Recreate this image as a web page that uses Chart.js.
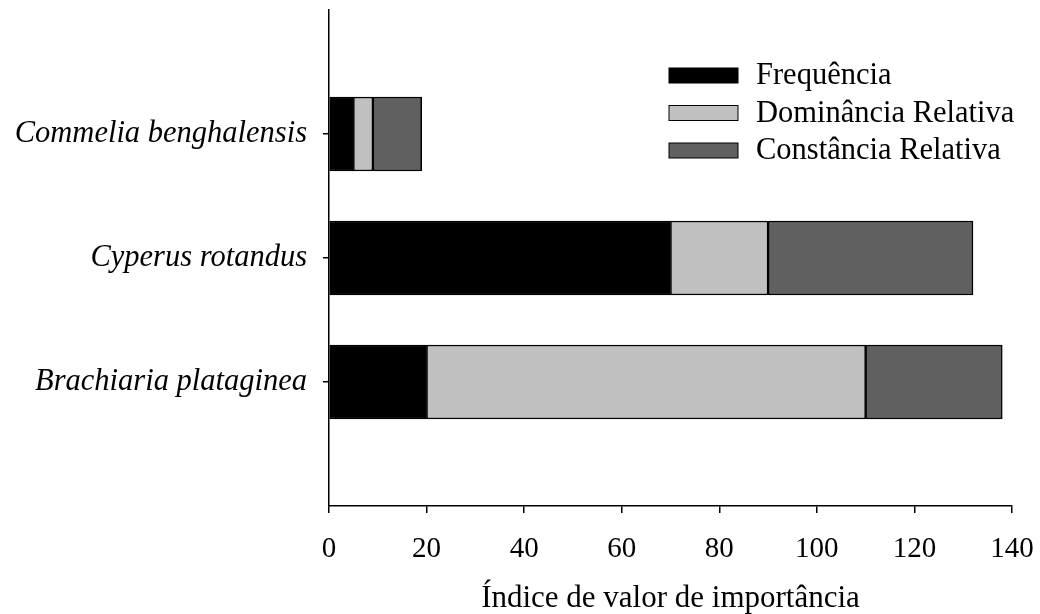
<!DOCTYPE html>
<html>
<head>
<meta charset="utf-8">
<script src="https://cdn.jsdelivr.net/npm/chart.js@4.4.0/dist/chart.umd.min.js"></script>
<style>
    html, body { margin: 0; padding: 0; background: #fff; }
    #wrap { width: 1040px; height: 614px; }
</style>
</head>
<body>
<div id="wrap"><canvas id="chartjs_bar"></canvas></div>
<script>
// species (empty entries pad the axis top and bottom)
const species = ['', 'Commelia benghalensis', 'Cyperus rotandus', 'Brachiaria plataginea', ''];
const frequencia = [null, 5, 70, 20, null];
const dominancia = [null, 4, 20, 90, null];
const constancia = [null, 10, 42, 28, null];
const seriesNames = ['Frequência', 'Dominância Relativa', 'Constância Relativa'];
const xTicks = [0, 20, 40, 60, 80, 100, 120, 140];

const colors = ['#000000', '#c0c0c0', '#606060'];
const serif = '"Liberation Serif", "Times New Roman", serif';

function makeSet(i, values) {
    return {
        label: seriesNames[i],
        data: values,
        backgroundColor: colors[i],
        borderColor: '#000',
        borderWidth: 1.5,
        borderSkipped: false,
        barThickness: 74
    };
}

// legend drawn inside the plot, top right
const insideLegend = {
    id: 'insideLegend',
    afterDraw(chart) {
        const ctx = chart.ctx;
        ctx.save();
        ctx.font = '30.5px ' + serif;
        ctx.textBaseline = 'middle';
        chart.data.datasets.forEach((ds, i) => {
            const y = 75 + i * 37.5;
            ctx.fillStyle = ds.backgroundColor;
            ctx.fillRect(669, y - 7, 69, 15);
            ctx.strokeStyle = '#000';
            ctx.lineWidth = 1;
            ctx.strokeRect(669, y - 7, 69, 15);
            ctx.fillStyle = '#000';
            ctx.fillText(ds.label, 756, y + 1);
        });
        ctx.restore();
    }
};

new Chart(document.getElementById('chartjs_bar'), {
    type: 'bar',
    data: {
        labels: species,
        datasets: [
            makeSet(0, frequencia),
            makeSet(1, dominancia),
            makeSet(2, constancia)
        ]
    },
    plugins: [insideLegend],
    options: {
        indexAxis: 'y',
        responsive: true,
        maintainAspectRatio: false,
        animation: false,
        layout: {
            padding: 0
        },
        scales: {
            x: {
                stacked: true,
                min: 0,
                max: 140,
                afterBuildTicks: (axis) => {
                    axis.ticks = xTicks.map(v => ({ value: v }));
                },
                afterFit: (axis) => {
                    axis.height = 108;
                    axis.paddingRight = 28;
                    axis.paddingLeft = 0;
                },
                border: { display: true, color: '#000', width: 1.5 },
                grid: {
                    display: true,
                    drawOnChartArea: false,
                    drawTicks: true,
                    tickLength: 7,
                    color: '#000',
                    lineWidth: 1.5
                },
                ticks: {
                    color: '#000',
                    padding: 19,
                    maxRotation: 0,
                    font: { family: serif, size: 29 }
                },
                title: {
                    display: true,
                    text: 'Índice de valor de importância',
                    color: '#000',
                    padding: { top: 0, bottom: 0 },
                    font: { family: serif, size: 31, lineHeight: 1 }
                }
            },
            y: {
                stacked: true,
                offset: false,
                afterFit: (axis) => {
                    axis.width = 329;
                    axis.paddingTop = 10;
                    axis.paddingBottom = 0;
                },
                border: { display: true, color: '#000', width: 1.5 },
                grid: {
                    display: true,
                    offset: false,
                    drawOnChartArea: false,
                    drawTicks: true,
                    tickLength: 6,
                    lineWidth: 1.5,
                    color: (c) => (c.tick && c.tick.label) ? '#000' : 'rgba(0,0,0,0)'
                },
                ticks: {
                    color: '#000',
                    padding: 16,
                    font: { family: serif, size: 30.5, style: 'italic' }
                }
            }
        },
        plugins: {
            legend: { display: false },
            tooltip: { enabled: false }
        }
    }
});
</script>
</body>
</html>
